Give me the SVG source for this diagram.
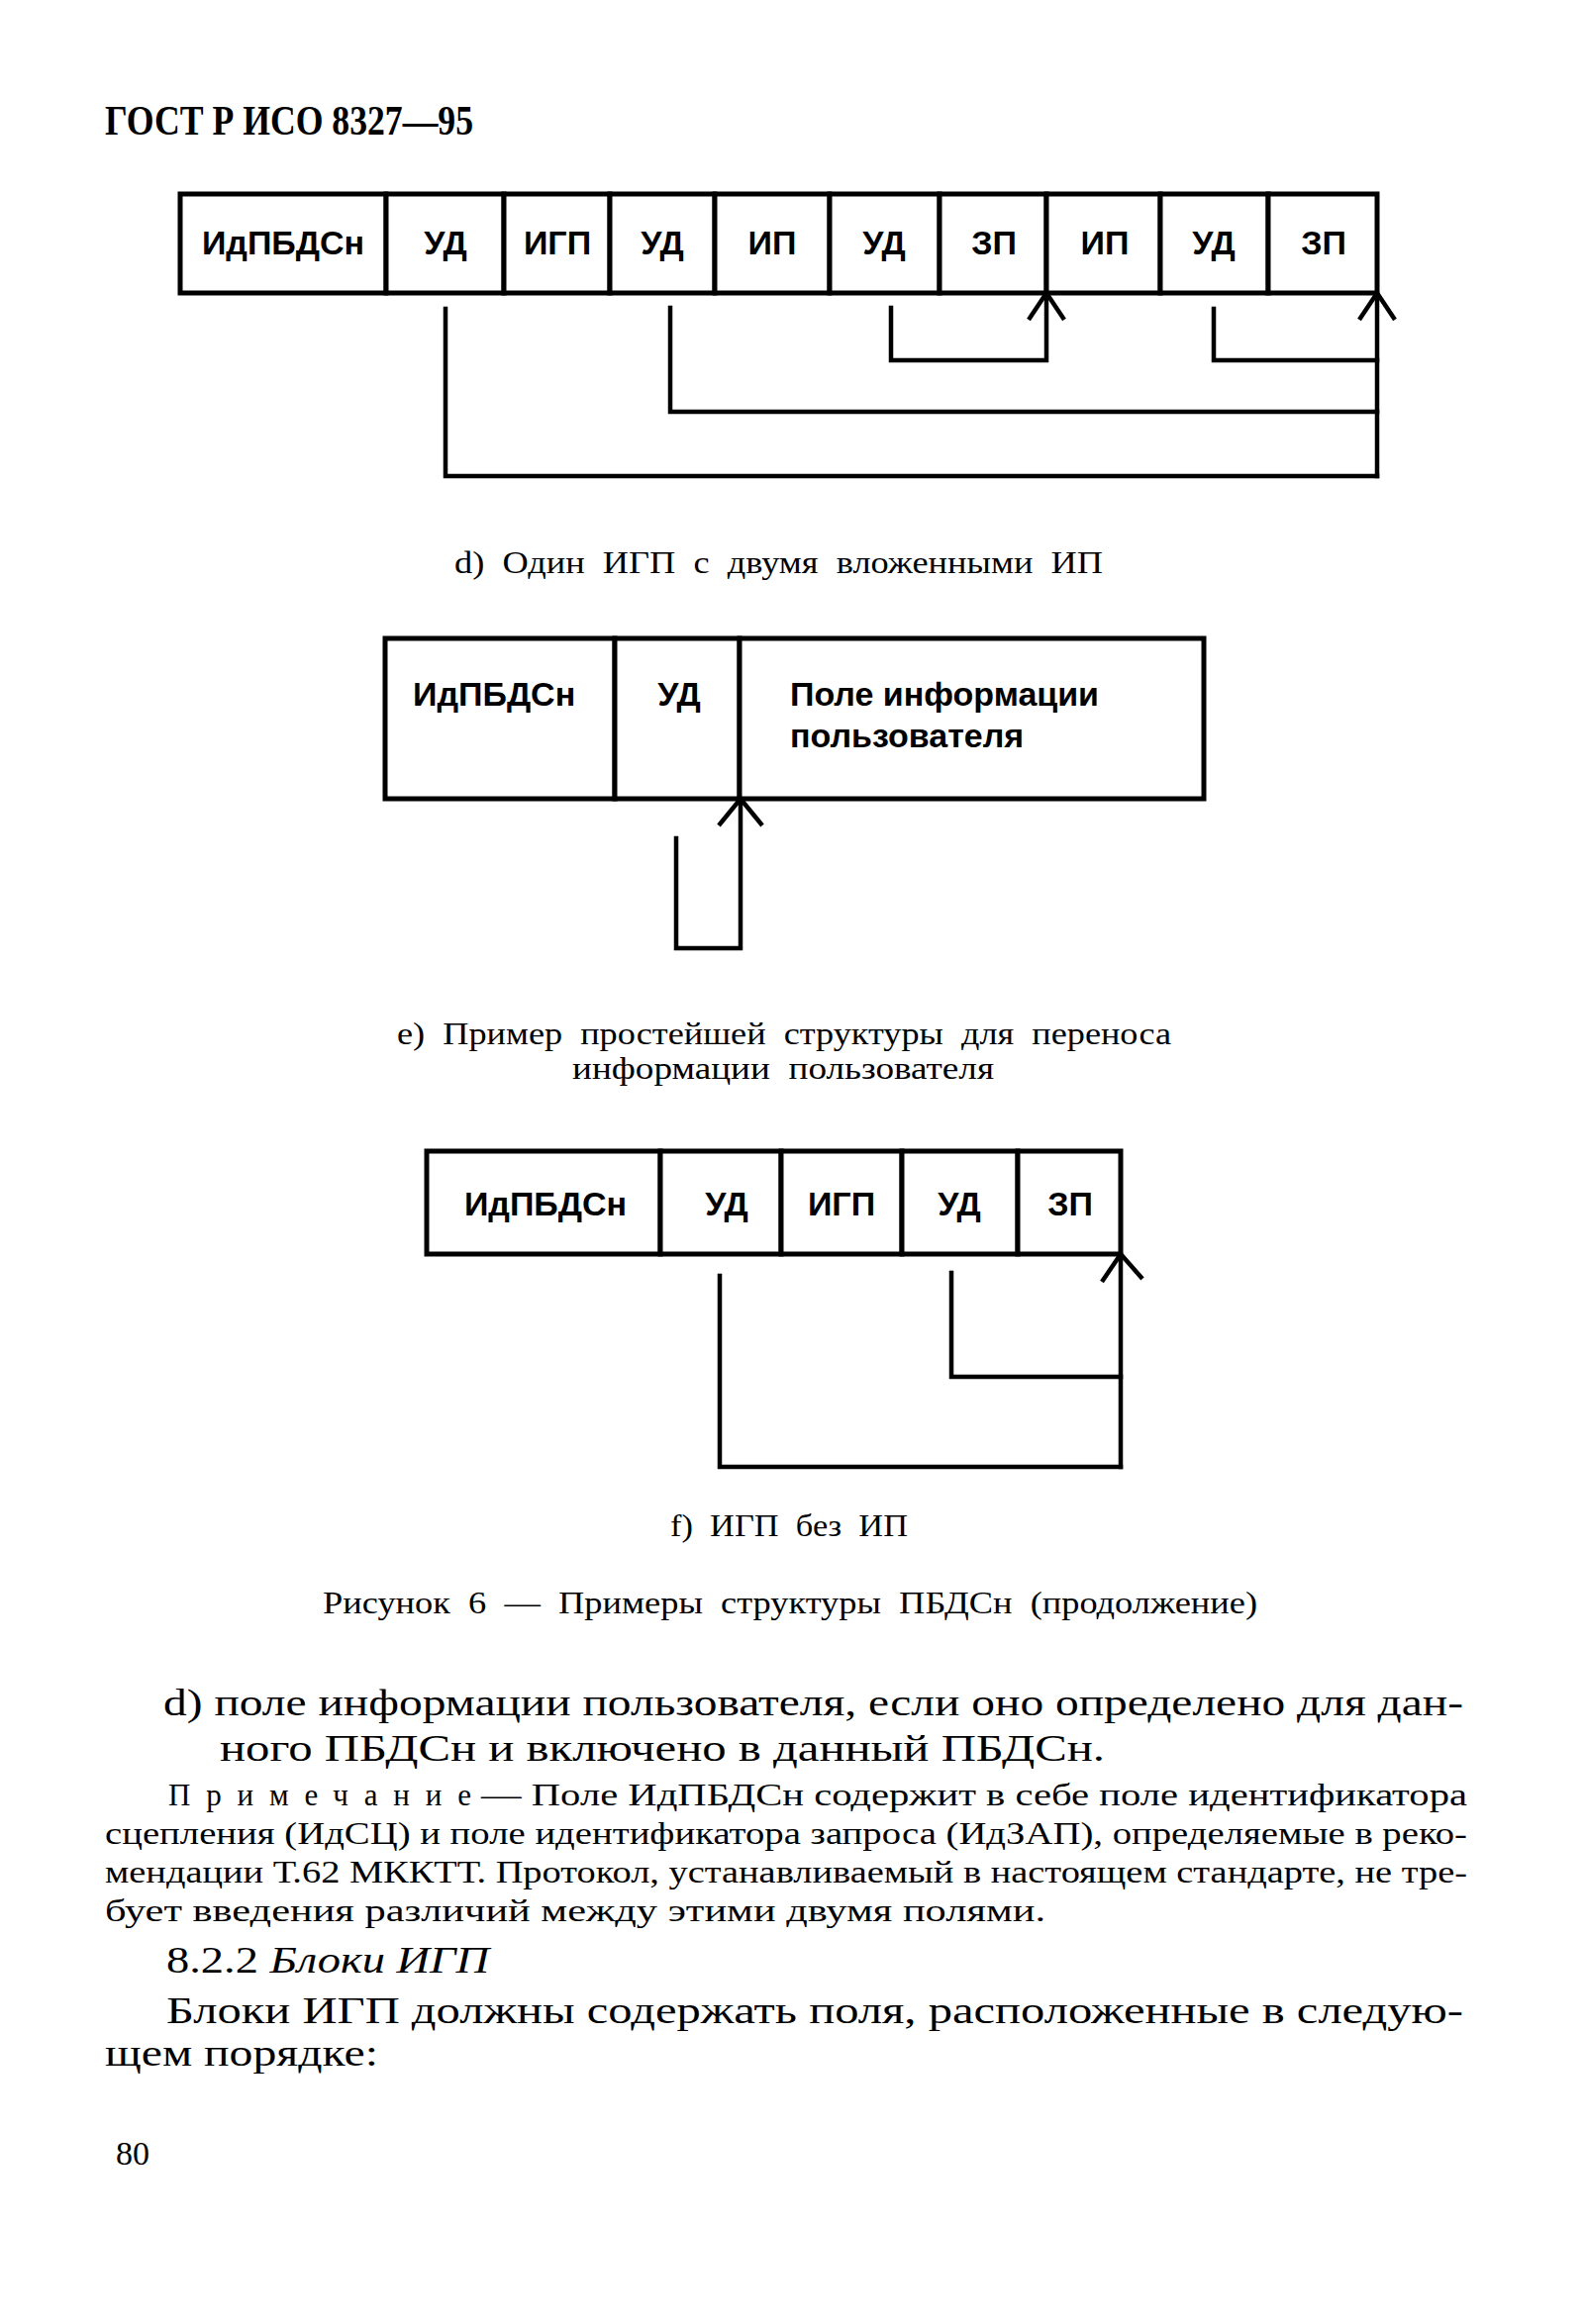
<svg xmlns="http://www.w3.org/2000/svg" width="1601" height="2348" viewBox="0 0 1601 2348">
<style>
.bg{fill:#fff}
.cell{fill:#fff;stroke:#000;stroke-width:5}
.lbl{font-family:"Liberation Sans",Arial,sans-serif;font-weight:bold;font-size:34px;fill:#000}
.ctr{text-anchor:middle}
.con{fill:none;stroke:#000;stroke-width:4.5;stroke-linejoin:miter;stroke-linecap:square}
.arr{fill:none;stroke:#000;stroke-width:4.5;stroke-linecap:butt;stroke-linejoin:miter}
.serif{font-family:"Liberation Serif","Times New Roman",serif;fill:#000}
.cap{font-size:32px;word-spacing:8px}
.body{font-size:38px}
.note{font-size:31px}
</style>
<rect class="bg" x="0" y="0" width="1601" height="2348"/>
<text class="serif" x="106" y="136" font-size="42" font-weight="bold" textLength="372" lengthAdjust="spacingAndGlyphs">ГОСТ Р ИСО 8327—95</text>

<!-- Figure d -->
<g id="fig-d">
<g id="d-idpbdsn"><rect class="cell" x="182" y="196" width="208" height="100"/><text class="lbl ctr" x="286" y="257">ИдПБДСн</text></g>
<g id="d-ud1"><rect class="cell" x="390" y="196" width="119" height="100"/><text class="lbl ctr" x="450" y="257">УД</text></g>
<g id="d-igp"><rect class="cell" x="509" y="196" width="107" height="100"/><text class="lbl ctr" x="563" y="257">ИГП</text></g>
<g id="d-ud2"><rect class="cell" x="616" y="196" width="106" height="100"/><text class="lbl ctr" x="669" y="257">УД</text></g>
<g id="d-ip1"><rect class="cell" x="722" y="196" width="116" height="100"/><text class="lbl ctr" x="780" y="257">ИП</text></g>
<g id="d-ud3"><rect class="cell" x="838" y="196" width="111" height="100"/><text class="lbl ctr" x="893" y="257">УД</text></g>
<g id="d-zp1"><rect class="cell" x="949" y="196" width="108" height="100"/><text class="lbl ctr" x="1004" y="257">ЗП</text></g>
<g id="d-ip2"><rect class="cell" x="1057" y="196" width="115" height="100"/><text class="lbl ctr" x="1116" y="257">ИП</text></g>
<g id="d-ud4"><rect class="cell" x="1172" y="196" width="109" height="100"/><text class="lbl ctr" x="1226" y="257">УД</text></g>
<g id="d-zp2"><rect class="cell" x="1281" y="196" width="110" height="100"/><text class="lbl ctr" x="1337" y="257">ЗП</text></g>
</g>
<g id="d-connectors">
<path class="con" d="M450 312 V481 H1391"/>
<path class="con" d="M677 311 V416 H1391"/>
<path class="con" d="M900 311 V364 H1057 V298"/>
<path class="con" d="M1226 312 V364 H1391"/>
<path class="con" d="M1391 481 V298"/>
<path class="arr" d="M1039 323 L1057 296 L1075 323"/>
<path class="arr" d="M1373 323 L1391 296 L1409 323"/>
</g>
<text class="serif cap" x="459" y="579" textLength="655" lengthAdjust="spacingAndGlyphs">d) Один ИГП с двумя вложенными ИП</text>

<!-- Figure e -->
<g id="fig-e">
<g id="e-idpbdsn"><rect class="cell" x="389" y="645" width="232" height="162"/><text class="lbl" x="417" y="713">ИдПБДСн</text></g>
<g id="e-ud"><rect class="cell" x="621" y="645" width="126" height="162"/><text class="lbl ctr" x="686" y="713">УД</text></g>
<g id="e-pole"><rect class="cell" x="747" y="645" width="469" height="162"/><text class="lbl" x="798" y="713">Поле информации</text><text class="lbl" x="798" y="755">пользователя</text></g>
</g>
<g id="e-connectors">
<path class="con" d="M683 847 V958 H748 V810"/>
<path class="arr" d="M726 834 L748 807 L770 834"/>
</g>
<text class="serif cap" x="401" y="1055" textLength="782" lengthAdjust="spacingAndGlyphs">е) Пример простейшей структуры для переноса</text>
<text class="serif cap" x="578" y="1090" textLength="426" lengthAdjust="spacingAndGlyphs">информации пользователя</text>

<!-- Figure f -->
<g id="fig-f">
<g id="f-idpbdsn"><rect class="cell" x="431" y="1163" width="236" height="104"/><text class="lbl ctr" x="551" y="1228">ИдПБДСн</text></g>
<g id="f-ud1"><rect class="cell" x="667" y="1163" width="122" height="104"/><text class="lbl ctr" x="734" y="1228">УД</text></g>
<g id="f-igp"><rect class="cell" x="789" y="1163" width="122" height="104"/><text class="lbl ctr" x="850" y="1228">ИГП</text></g>
<g id="f-ud2"><rect class="cell" x="911" y="1163" width="117" height="104"/><text class="lbl ctr" x="969" y="1228">УД</text></g>
<g id="f-zp"><rect class="cell" x="1028" y="1163" width="104" height="104"/><text class="lbl ctr" x="1081" y="1228">ЗП</text></g>
</g>
<g id="f-connectors">
<path class="con" d="M727 1289 V1482 H1132"/>
<path class="con" d="M961 1286 V1391 H1132"/>
<path class="con" d="M1132 1482 V1270"/>
<path class="arr" d="M1113 1295 L1132 1267 L1154 1292"/>
</g>
<text class="serif cap" x="677" y="1552" textLength="240" lengthAdjust="spacingAndGlyphs">f) ИГП без ИП</text>
<text class="serif cap" x="326" y="1630" textLength="944" lengthAdjust="spacingAndGlyphs">Рисунок 6 — Примеры структуры ПБДСн (продолжение)</text>

<!-- Body text -->
<text class="serif body" x="165" y="1733" textLength="1313" lengthAdjust="spacingAndGlyphs">d) поле информации пользователя, если оно определено для дан-</text>
<text class="serif body" x="222" y="1779" textLength="894" lengthAdjust="spacingAndGlyphs">ного ПБДСн и включено в данный ПБДСн.</text>
<text class="serif note" x="170" y="1824" textLength="306" lengthAdjust="spacing">Примечание</text>
<text class="serif note" x="486" y="1824" textLength="996" lengthAdjust="spacingAndGlyphs">— Поле ИдПБДСн содержит в себе поле идентификатора</text>
<text class="serif note" x="106" y="1863" textLength="1376" lengthAdjust="spacingAndGlyphs">сцепления (ИдСЦ) и поле идентификатора запроса (ИдЗАП), определяемые в реко-</text>
<text class="serif note" x="106" y="1902" textLength="1376" lengthAdjust="spacingAndGlyphs">мендации Т.62 МККТТ. Протокол, устанавливаемый в настоящем стандарте, не тре-</text>
<text class="serif note" x="106" y="1941" textLength="950" lengthAdjust="spacingAndGlyphs">бует введения различий между этими двумя полями.</text>
<text class="serif body" x="168" y="1993" textLength="326" lengthAdjust="spacingAndGlyphs">8.2.2 <tspan font-style="italic">Блоки ИГП</tspan></text>
<text class="serif body" x="168" y="2044" textLength="1310" lengthAdjust="spacingAndGlyphs">Блоки ИГП должны содержать поля, расположенные в следую-</text>
<text class="serif body" x="106" y="2087" textLength="276" lengthAdjust="spacingAndGlyphs">щем порядке:</text>
<text class="serif" x="117" y="2187" font-size="34">80</text>
</svg>
